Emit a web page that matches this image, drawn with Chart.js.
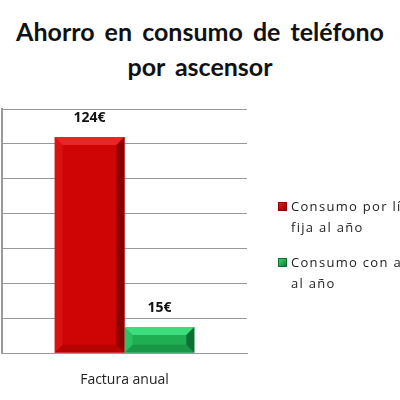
<!DOCTYPE html>
<html>
<head>
<meta charset="utf-8">
<script src="https://cdn.jsdelivr.net/npm/chart.js@4.4.0/dist/chart.umd.min.js"></script>
<style>
  body { margin: 0; background: #fff; }
  #wrap { position: relative; width: 400px; height: 400px; overflow: hidden; background: #fff; }
  #titulo {
    position: absolute; left: 0; top: 14px; width: 400px; text-align: center;
    font-family: Lato, sans-serif; font-weight: bold; font-size: 25px; line-height: 35px;
    color: #111; word-spacing: 4px; white-space: nowrap;
  }
  #leyenda {
    position: absolute; left: 278px; top: 196px; white-space: nowrap;
    font-family: "Open Sans", sans-serif; font-size: 13px; letter-spacing: 1.3px; color: #222;
  }
  .item { position: relative; padding-left: 13px; line-height: 21px; margin-bottom: 14px; }
  .cuadro { position: absolute; left: 0; top: 6px; width: 9px; height: 9px; }
  canvas { position: absolute; left: 0; top: 0; }
</style>
</head>
<body>
<div id="wrap">
  <div id="titulo">Ahorro en consumo de teléfono<br>por ascensor</div>
  <canvas id="grafico" width="400" height="416"></canvas>
  <div id="leyenda"></div>
</div>
<script>
// --- DATOS ---
const categorias = ['Factura anual'];
const series = ['Consumo por línea fija al año', 'Consumo con ascensor al año'];
const lineasLeyenda = [['Consumo por línea', 'fija al año'], ['Consumo con ascensor', 'al año']];
const valoresFija = [124];
const valoresAscensor = [15];
const etiquetas = ['124€', '15€'];

// colores: principal, claro (bisel arriba), oscuro (bisel derecha)
const coloresFija = ['#cf0404', '#e82626', '#8a0000'];
const coloresAscensor = ['#1fae52', '#3ddd7e', '#0f6e33'];

// leyenda en html (el texto se corta en el borde como en la imagen)
const leyenda = document.getElementById('leyenda');
leyenda.innerHTML = lineasLeyenda.map((l, i) => {
    const c = i === 0 ? coloresFija : coloresAscensor;
    return `<div class="item"><span class="cuadro" style="background:linear-gradient(135deg, ${c[1]}, ${c[0]} 50%, ${c[2]}); box-shadow: inset 0 0 0 1px ${c[2]}"></span>${l.join('<br>')}</div>`;
}).join('');

// bisel tipo 3D sobre cada barra
const biselPlugin = {
    id: 'bisel',
    afterDatasetsDraw(chart) {
        const ctx = chart.ctx;
        chart.data.datasets.forEach((ds, i) => {
            const meta = chart.getDatasetMeta(i);
            const c = ds.colores;
            meta.data.forEach(bar => {
                const l = bar.x - bar.width / 2, r = bar.x + bar.width / 2;
                const t = bar.y, b = bar.base;
                const s = Math.min(8, (b - t) / 3);
                ctx.save();
                // arriba
                ctx.fillStyle = c[1];
                ctx.beginPath();
                ctx.moveTo(l, t); ctx.lineTo(r, t); ctx.lineTo(r - s, t + s); ctx.lineTo(l + s, t + s);
                ctx.closePath(); ctx.fill();
                // derecha
                ctx.fillStyle = c[2];
                ctx.beginPath();
                ctx.moveTo(r, t); ctx.lineTo(r, b); ctx.lineTo(r - s, b - s); ctx.lineTo(r - s, t + s);
                ctx.closePath(); ctx.fill();
                // izquierda
                ctx.globalAlpha = 0.4;
                ctx.fillStyle = c[1];
                ctx.beginPath();
                ctx.moveTo(l, t); ctx.lineTo(l + s, t + s); ctx.lineTo(l + s, b - s); ctx.lineTo(l, b);
                ctx.closePath(); ctx.fill();
                // abajo
                ctx.globalAlpha = 0.35;
                ctx.fillStyle = c[2];
                ctx.beginPath();
                ctx.moveTo(l, b); ctx.lineTo(l + s, b - s); ctx.lineTo(r - s, b - s); ctx.lineTo(r, b);
                ctx.closePath(); ctx.fill();
                ctx.restore();

                // valor encima
                ctx.save();
                ctx.font = 'bold 14px "Open Sans", sans-serif';
                ctx.fillStyle = '#111';
                ctx.textAlign = 'center';
                ctx.textBaseline = 'middle';
                ctx.fillText(etiquetas[i], bar.x, t - 19);
                ctx.restore();
            });
        });
    }
};

new Chart(document.getElementById('grafico'), {
    type: 'bar',
    data: {
        labels: categorias,
        datasets: [
            { label: series[0], data: valoresFija, backgroundColor: coloresFija[0], colores: coloresFija,
              borderWidth: 0, categoryPercentage: 0.57, barPercentage: 1 },
            { label: series[1], data: valoresAscensor, backgroundColor: coloresAscensor[0], colores: coloresAscensor,
              borderWidth: 0, categoryPercentage: 0.57, barPercentage: 1 }
        ]
    },
    options: {
        responsive: false,
        animation: false,
        layout: { padding: { left: 2, right: 153, top: 109, bottom: 10 } },
        plugins: { legend: { display: false }, tooltip: { enabled: false } },
        scales: {
            x: {
                grid: { display: false, drawTicks: false },
                border: { display: true, color: '#999', width: 1 },
                ticks: { padding: 18, color: '#222', font: { family: '"Open Sans", sans-serif', size: 14 } }
            },
            y: {
                min: 0, max: 140,
                ticks: { display: false, stepSize: 20 },
                grid: { color: '#999', lineWidth: 1, drawTicks: false },
                border: { display: true, color: '#999', width: 2 }
            }
        }
    },
    plugins: [biselPlugin]
});
</script>
</body>
</html>
